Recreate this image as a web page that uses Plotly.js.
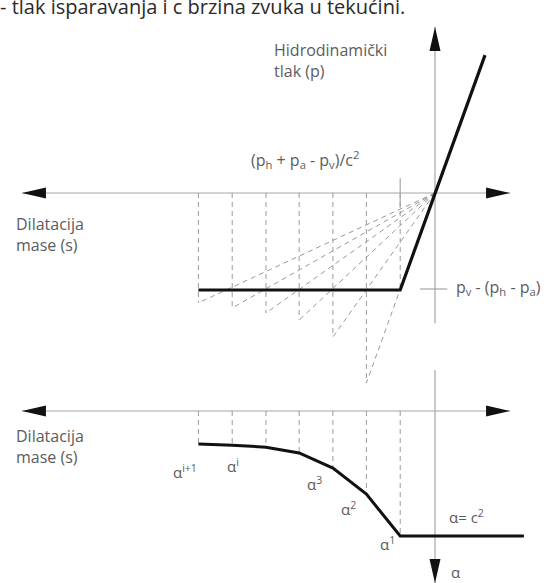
<!DOCTYPE html>
<html>
<head>
<meta charset="utf-8">
<script src="https://cdn.plot.ly/plotly-3.0.1.min.js"></script>
<style>html,body{margin:0;padding:0;background:#fff;}#chart{width:549px;height:583px;}</style>
</head>
<body>
<div id="chart"></div>
<script>
// ---- data (diagram units: 1 unit of dilatation s on x; same unit scale on p and alpha) ----
const sSteps   = [-1.03, -2.03, -3.02, -4.02, -5.00, -6.00, -7.00];   // dilatation steps
const rayP     = [-2.87, -5.62, -4.26, -3.76, -3.55, -3.40, -3.25];   // ends of dashed rays (pressure plot)
const pVap     = -2.87;                                               // p_v - (p_h - p_a)
const steepTop = [1.48, 4.08];                                        // top end of the linear branch
const flatLeft = -7.00;                                               // left end of cavitation plateau
const alphaVals = [3.70, 2.46, 1.69, 1.24, 1.07, 1.01, 0.98];         // alpha^1 ... alpha^{i+1}
const alphaRight = 2.63;                                              // right end of alpha = c^2
const alphaLabels = ['α<sup>1</sup>', 'α<sup>2</sup>', 'α<sup>3</sup>', '', '', 'α<sup>i</sup>', 'α<sup>i+1</sup>'];
const xAxisEnds = [-12.22, 2.22];     // horizontal axes (both plots)
const pAxisEnds = [4.91, -3.85];      // vertical axis, pressure plot
const aAxisEnds = [-1.21, 5.09];      // vertical axis, alpha plot

const W = 549, H = 583, U = 33.8;     // pixels per unit
const axisGray = '#a8a4a4', dashGray = '#9a9a9a', ink = '#111';
const FONT = 'Open Sans, Lato, sans-serif';

const traces = [];
function line(x, y, yaxis, color, width, dash) {
  traces.push({x: x, y: y, xaxis: 'x', yaxis: yaxis, mode: 'lines', hoverinfo: 'skip',
    line: {color: color, width: width, dash: dash || 'solid'}, showlegend: false});
}

// axes lines
line(xAxisEnds, [0, 0], 'y', axisGray, 1.2);
line([0, 0], pAxisEnds, 'y', axisGray, 1.2);
line(xAxisEnds, [0, 0], 'y2', axisGray, 1.2);
line([0, 0], aAxisEnds, 'y2', axisGray, 1.2);

// top plot: dashed verticals and rays
sSteps.forEach((s, i) => {
  line([s, s], [0, rayP[i]], 'y', dashGray, 1, '5px,4px');
  if (i > 0) line([0, s], [0, rayP[i]], 'y', dashGray, 1, '5px,4px');
});
// small ticks
line([sSteps[0], sSteps[0]], [0.44, -0.44], 'y', axisGray, 1.2);
line([-0.44, 0.36], [pVap + 0.03, pVap + 0.03], 'y', axisGray, 1.2);
// pressure law (thick)
line([flatLeft, sSteps[0], steepTop[0]], [pVap, pVap, steepTop[1]], 'y', ink, 3.2);

// bottom plot: dashed verticals
sSteps.forEach((s, i) => {
  line([s, s], [0, alphaVals[i]], 'y2', dashGray, 1, '5px,4px');
});
// alpha curve
line([alphaRight].concat(sSteps), [alphaVals[0]].concat(alphaVals), 'y2', ink, 3);

// arrowheads as filled triangles
const shapes = [];
function arrow(tipX, tipY, dx, dy, yref) {
  const L = 24 / U, Hw = 5.5 / U;
  const bx = tipX - dx * L, by = tipY - dy * L;
  const px = -dy * Hw, py = dx * Hw;
  shapes.push({type: 'path', xref: 'x', yref: yref, line: {width: 0}, fillcolor: ink,
    path: `M ${tipX},${tipY} L ${bx + px},${by + py} L ${bx - px},${by - py} Z`});
}
arrow(xAxisEnds[0], 0, -1, 0, 'y');
arrow(xAxisEnds[1], 0, 1, 0, 'y');
arrow(0, pAxisEnds[0], 0, 1, 'y');
arrow(xAxisEnds[0], 0, -1, 0, 'y2');
arrow(xAxisEnds[1], 0, 1, 0, 'y2');
arrow(0, aAxisEnds[1], 0, 1, 'y2');

// labels
const textGray = '#5c5c5c';
function lab(text, px, py, size, opts) {
  return Object.assign({xref: 'paper', yref: 'paper', x: px / W, y: 1 - py / H,
    xanchor: 'left', yanchor: 'middle', showarrow: false, align: 'left', text: text,
    font: {family: FONT, size: size || 16, color: textGray}}, opts || {});
}
const annotations = [
  lab('- tlak isparavanja i c brzina zvuka u tekućini.', -2, 7, 20, {font: {family: FONT, size: 20, color: '#2a2a2a'}}),
  lab('Hidrodinamički<br>tlak (p)', 272, 60, 16),
  lab('(p<sub>h</sub> + p<sub>a</sub> - p<sub>v</sub>)/c<sup>2</sup>', 249, 159, 16),
  lab('p<sub>v</sub> - (p<sub>h</sub> - p<sub>a</sub>)', 454, 288, 16),
  lab('Dilatacija<br>mase (s)', 14, 234, 16),
  lab('Dilatacija<br>mase (s)', 14, 446, 16),
  lab('α= c<sup>2</sup>', 447, 516, 15),
  lab('α', 449, 572, 15)
];
// alpha labels near the curve points
const alphaLabPx = [[378, 543], [339, 508], [305, 483], null, null, [225, 465], [171, 471]];
alphaLabels.forEach((t, i) => {
  if (!t) return;
  annotations.push(lab(t, alphaLabPx[i][0], alphaLabPx[i][1], 15));
});

const layout = {
  width: W, height: H,
  margin: {l: 0, r: 0, t: 0, b: 0, pad: 0},
  paper_bgcolor: '#fff', plot_bgcolor: '#fff',
  showlegend: false,
  xaxis: {range: [-435 / U, (W - 435) / U], visible: false, fixedrange: true},
  yaxis: {range: [(193 - H) / U, 193 / U], visible: false, fixedrange: true},
  yaxis2: {range: [(H - 411) / U, -411 / U], visible: false, overlaying: 'y', fixedrange: true},
  shapes: shapes,
  annotations: annotations
};
Plotly.newPlot('chart', traces, layout, {staticPlot: true, displayModeBar: false});
</script>
</body>
</html>
